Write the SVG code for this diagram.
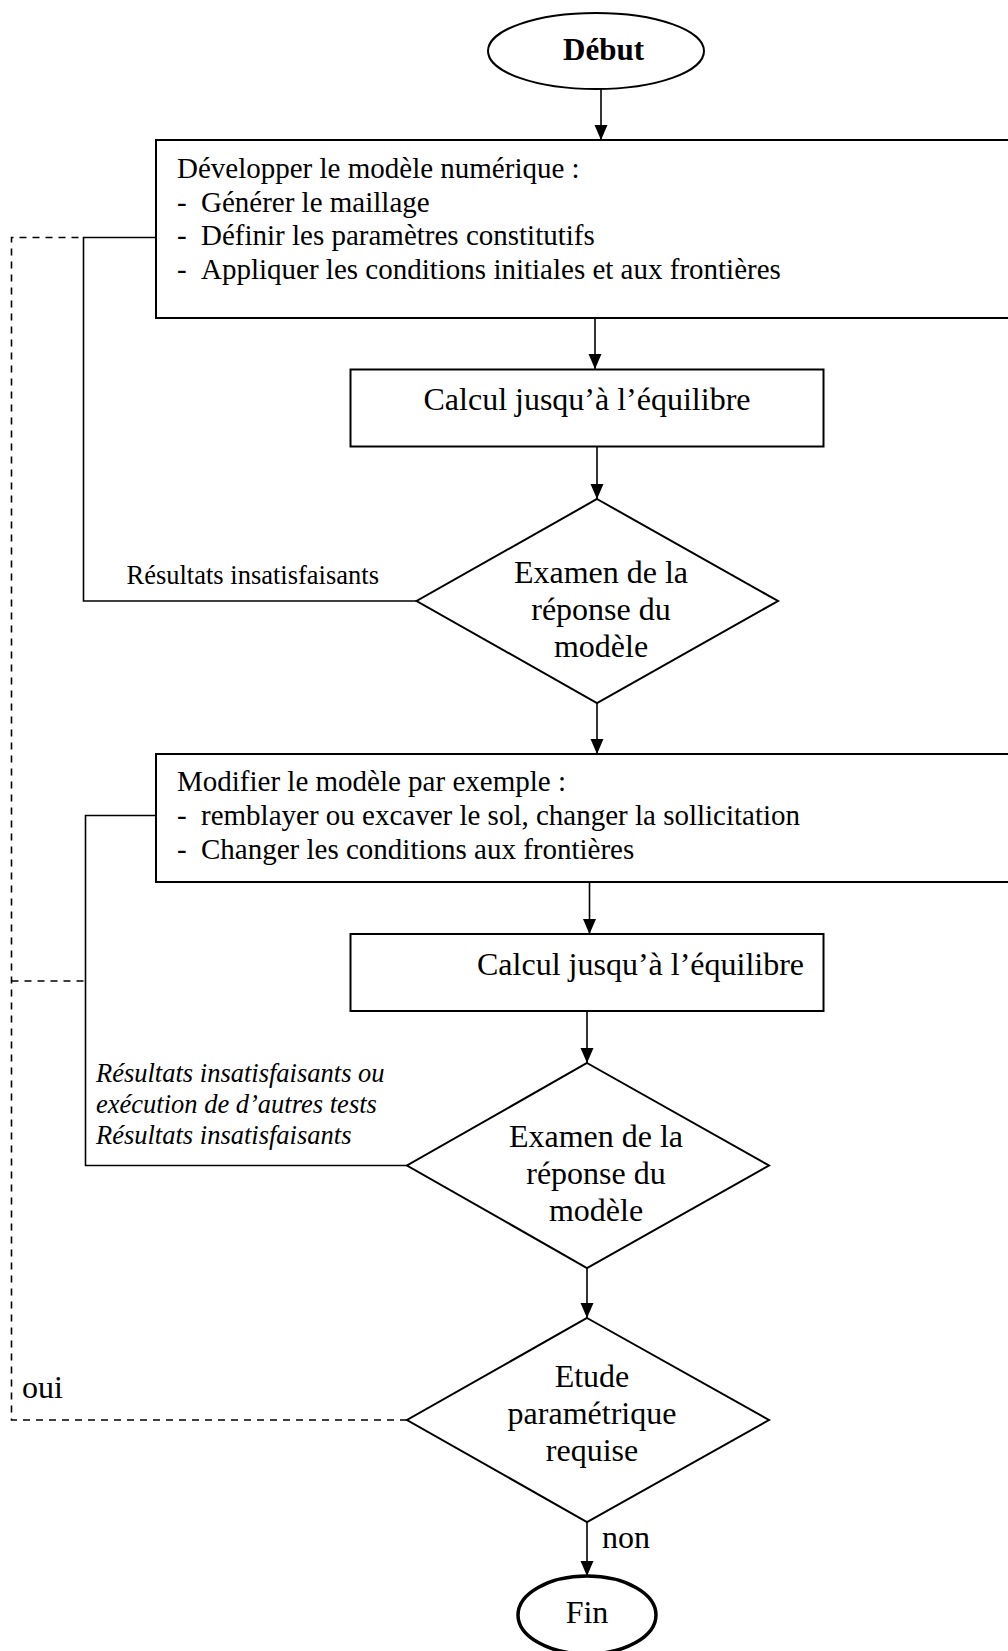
<svg xmlns="http://www.w3.org/2000/svg" width="1008" height="1651" viewBox="0 0 1008 1651">
<style>
text{font-family:"Liberation Serif","Times New Roman",serif;fill:#000}
.box{fill:#fff;stroke:#000;stroke-width:2}
.dia{fill:#fff;stroke:#000;stroke-width:2}
.ln{fill:none;stroke:#000;stroke-width:1.6}
.dash{fill:none;stroke:#000;stroke-width:1.6;stroke-dasharray:7 6}
.t29{font-size:29px}
.t32{font-size:32px}
.c32{font-size:32px;text-anchor:middle}
.lab{font-size:26.5px}
.it{font-size:26.5px;font-style:italic}
</style>
<defs>
<marker id="ah" markerUnits="userSpaceOnUse" markerWidth="16" markerHeight="14" refX="15" refY="6.5" orient="auto">
<path d="M0,0 L15,6.5 L0,13 z" fill="#000"/>
</marker>
</defs>
<g id="connectors">
<line class="ln" x1="601" y1="89" x2="601" y2="140" marker-end="url(#ah)"/>
<line class="ln" x1="595" y1="318" x2="595" y2="369" marker-end="url(#ah)"/>
<line class="ln" x1="597" y1="447" x2="597" y2="499" marker-end="url(#ah)"/>
<line class="ln" x1="597" y1="703" x2="597" y2="754" marker-end="url(#ah)"/>
<line class="ln" x1="589.5" y1="882" x2="589.5" y2="934" marker-end="url(#ah)"/>
<line class="ln" x1="587" y1="1011" x2="587" y2="1063" marker-end="url(#ah)"/>
<line class="ln" x1="587" y1="1268" x2="587" y2="1318" marker-end="url(#ah)"/>
<line class="ln" x1="587" y1="1522" x2="587" y2="1576" marker-end="url(#ah)"/>
<polyline class="ln" points="416.6,601 83.5,601 83.5,237.5 156,237.5"/>
<polyline class="ln" points="407,1165.5 85.5,1165.5 85.5,815.5 156,815.5"/>
<polyline class="dash" points="407,1420 11.5,1420 11.5,237.5 83.5,237.5"/>
<line class="dash" x1="11.5" y1="981" x2="85.5" y2="981"/>
<text class="lab" x="126.5" y="584">Résultats insatisfaisants</text>
<text class="it" x="96" y="1082">Résultats insatisfaisants ou</text>
<text class="it" x="96" y="1113">exécution de d’autres tests</text>
<text class="it" x="96" y="1144">Résultats insatisfaisants</text>
<text class="t32" x="22" y="1398">oui</text>
<text class="t32" x="602" y="1548">non</text>
</g>
<g id="debut">
<ellipse cx="596" cy="51" rx="108" ry="38" fill="#fff" stroke="#000" stroke-width="2"/>
<text x="603.5" y="59.5" style="font-size:31px;font-weight:bold;text-anchor:middle">Début</text>
</g>
<g id="developper">
<rect class="box" x="156" y="140" width="900" height="178"/>
<text class="t29" x="177" y="178">Développer le modèle numérique :</text>
<text class="t29" x="177" y="211.5">-</text><text class="t29" x="201" y="211.5">Générer le maillage</text>
<text class="t29" x="177" y="245">-</text><text class="t29" x="201" y="245">Définir les paramètres constitutifs</text>
<text class="t29" x="177" y="278.5">-</text><text class="t29" x="201" y="278.5">Appliquer les conditions initiales et aux frontières</text>
</g>
<g id="calcul1">
<rect class="box" x="350.5" y="369.5" width="473" height="77"/>
<text class="c32" x="587" y="410">Calcul jusqu’à l’équilibre</text>
</g>
<g id="examen1">
<polygon class="dia" points="597,499 778,601 597,703 416.6,601"/>
<text class="c32" x="601" y="583">Examen de la</text>
<text class="c32" x="601" y="620">réponse du</text>
<text class="c32" x="601" y="657">modèle</text>
</g>
<g id="modifier">
<rect class="box" x="156" y="754" width="900" height="128"/>
<text class="t29" x="177" y="791">Modifier le modèle par exemple :</text>
<text class="t29" x="177" y="825">-</text><text class="t29" x="201" y="825">remblayer ou excaver le sol, changer la sollicitation</text>
<text class="t29" x="177" y="859">-</text><text class="t29" x="201" y="859">Changer les conditions aux frontières</text>
</g>
<g id="calcul2">
<rect class="box" x="350.5" y="934" width="473" height="77"/>
<text class="t32" x="477" y="975">Calcul jusqu’à l’équilibre</text>
</g>
<g id="examen2">
<polygon class="dia" points="587,1063 769,1165.5 587,1268 407,1165.5"/>
<text class="c32" x="596" y="1147">Examen de la</text>
<text class="c32" x="596" y="1184">réponse du</text>
<text class="c32" x="596" y="1221">modèle</text>
</g>
<g id="etude">
<polygon class="dia" points="587,1318 769,1420 587,1522 407,1420"/>
<text class="c32" x="592" y="1387">Etude</text>
<text class="c32" x="592" y="1424">paramétrique</text>
<text class="c32" x="592" y="1461">requise</text>
</g>
<g id="fin">
<ellipse cx="587" cy="1615" rx="69" ry="39" fill="#fff" stroke="#000" stroke-width="3.5"/>
<text class="c32" x="587" y="1623">Fin</text>
</g>
</svg>
